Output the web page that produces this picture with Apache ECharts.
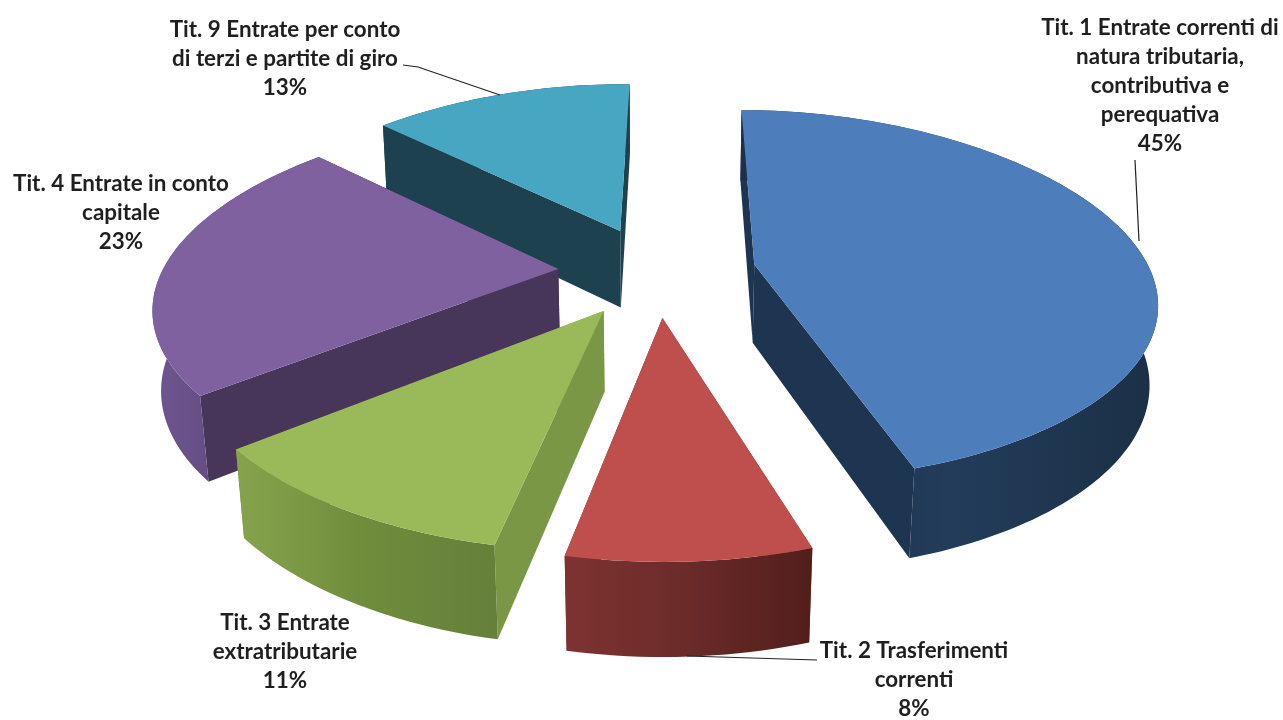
<!DOCTYPE html>
<html>
<head>
<meta charset="utf-8">
<style>html,body{margin:0;padding:0;background:#fff}#chart{width:1283px;height:720px}</style>
<script src="https://cdn.jsdelivr.net/npm/echarts@6/dist/echarts.min.js"></script>
</head>
<body>
<div id="chart"></div>
<script>
// Composizione delle entrate per titolo (%)
const categories = [
  'Tit. 1 Entrate correnti di\nnatura tributaria,\ncontributiva e\nperequativa',
  'Tit. 2 Trasferimenti\ncorrenti',
  'Tit. 3 Entrate\nextratributarie',
  'Tit. 4 Entrate in conto\ncapitale',
  'Tit. 9 Entrate per conto\ndi terzi e partite di giro'
];
const percentages = [45, 8, 11, 23, 13];

// Slice palette: top face, inner wall, outer wall gradient stops
const palette = [
  {top: '#4E7DBB', inner: '#1D3550', outer: ['#1C3148', '#223C5A', '#1B3046']},
  {top: '#BE4F4C', inner: '#7A302E', outer: ['#7E3331', '#6A2B29', '#521E1C']},
  {top: '#9AB958', inner: '#7A9745', outer: ['#86A34C', '#6F8C3C', '#64803A']},
  {top: '#7F61A0', inner: '#47365A', outer: ['#6F5690', '#5F4A7C', '#4F3D68']},
  {top: '#47A7C3', inner: '#1E4150', outer: ['#1E4150', '#1E4150', '#1E4150']}
];

// Label anchors and optional leader lines, in page pixels
const labelLayout = [
  {x: 1160, y: 13, leader: [[1135, 160], [1139, 241]]},
  {x: 914, y: 636, leader: [[817, 660], [687, 656]]},
  {x: 285, y: 608, leader: null},
  {x: 121, y: 169, leader: null},
  {x: 285, y: 15, leader: [[403, 65], [418, 67], [500, 95]]}
];

// Perspective camera of the pie: divisors are gentle curves in the depth coordinate
const view = {
  cx: 657, cy: 271, scaleX: 396, scaleY: 403, tilt: 0.447, cosTilt: 0.895, lift: 0.151,
  xLinear: 0.186, xCurve: 0.0135,
  yLinear: 0.166, yCurve: -0.012
};
const startAngle = 0.6 * Math.PI / 180;
const explode = 0.25;
const thickness = 0.222;

function project(X, Y, Z) {
  const lift = Z * view.tilt * view.lift / view.cosTilt;
  const wx = 1 - Y * view.xLinear + Y * Y * view.xCurve - lift;
  const wy = 1 - Y * view.yLinear + Y * Y * view.yCurve - lift;
  return [
    view.cx + view.scaleX * X / wx,
    view.cy + view.scaleY * (Y * view.tilt - Z * view.cosTilt) / wy
  ];
}

const total = percentages.reduce((a, b) => a + b, 0);
let running = 0;
const sliceAngles = percentages.map(v => {
  const start = startAngle + running / total * 2 * Math.PI;
  running += v;
  return [start, startAngle + running / total * 2 * Math.PI];
});

// Back slices first so nearer ones overlap them
const paintOrder = [4, 3, 0, 2, 1];

function slicePolys(i) {
  const [a0, a1] = sliceAngles[i];
  const mid = (a0 + a1) / 2;
  const ox = Math.sin(mid) * explode, oy = -Math.cos(mid) * explode;
  const steps = Math.max(8, Math.round((a1 - a0) * 40));
  const rim = z => {
    const pts = [];
    for (let k = 0; k <= steps; k++) {
      const a = a0 + (a1 - a0) * k / steps;
      pts.push(project(ox + Math.sin(a), oy - Math.cos(a), z));
    }
    return pts;
  };
  const topRim = rim(0), lowRim = rim(-thickness);
  const apexTop = project(ox, oy, 0), apexLow = project(ox, oy, -thickness);
  return {
    top: [apexTop, ...topRim],
    wallA: [apexTop, topRim[0], lowRim[0], apexLow],
    wallB: [apexTop, topRim[steps], lowRim[steps], apexLow],
    outer: [...topRim, ...lowRim.slice().reverse()]
  };
}

function renderSlice(params) {
  const i = paintOrder[params.dataIndex];
  const p = slicePolys(i), c = palette[i];
  const poly = (points, fill) => ({type: 'polygon', shape: {points}, style: {fill}});
  const wallGradient = new echarts.graphic.LinearGradient(0, 0, 1, 0, [
    {offset: 0, color: c.outer[0]},
    {offset: 0.5, color: c.outer[1]},
    {offset: 1, color: c.outer[2]}
  ]);
  return {
    type: 'group',
    children: [
      poly(p.wallA, c.inner),
      poly(p.wallB, c.inner),
      poly(p.outer, wallGradient),
      poly(p.top, c.top)
    ]
  };
}

const textStyle = {
  fontFamily: 'Lato, "Open Sans", sans-serif',
  fontSize: 22.4,
  fontWeight: 'bold',
  lineHeight: 29,
  fill: '#1f1f1f',
  align: 'center',
  verticalAlign: 'top'
};

const labels = [];
categories.forEach((name, i) => {
  const l = labelLayout[i];
  if (l.leader) {
    labels.push({type: 'polyline', z: 5, shape: {points: l.leader}, style: {stroke: '#222', lineWidth: 1.2, fill: null}});
  }
  labels.push({type: 'text', z: 6, x: l.x, y: l.y, style: {...textStyle, text: name + '\n' + percentages[i] + '%'}});
});

const chart = echarts.init(document.getElementById('chart'), null, {renderer: 'canvas'});
chart.setOption({
  animation: false,
  backgroundColor: '#fff',
  graphic: labels,
  series: [{
    type: 'custom',
    coordinateSystem: 'none',
    renderItem: renderSlice,
    data: paintOrder.map(i => percentages[i]),
    silent: true
  }]
});
</script>
</body>
</html>
